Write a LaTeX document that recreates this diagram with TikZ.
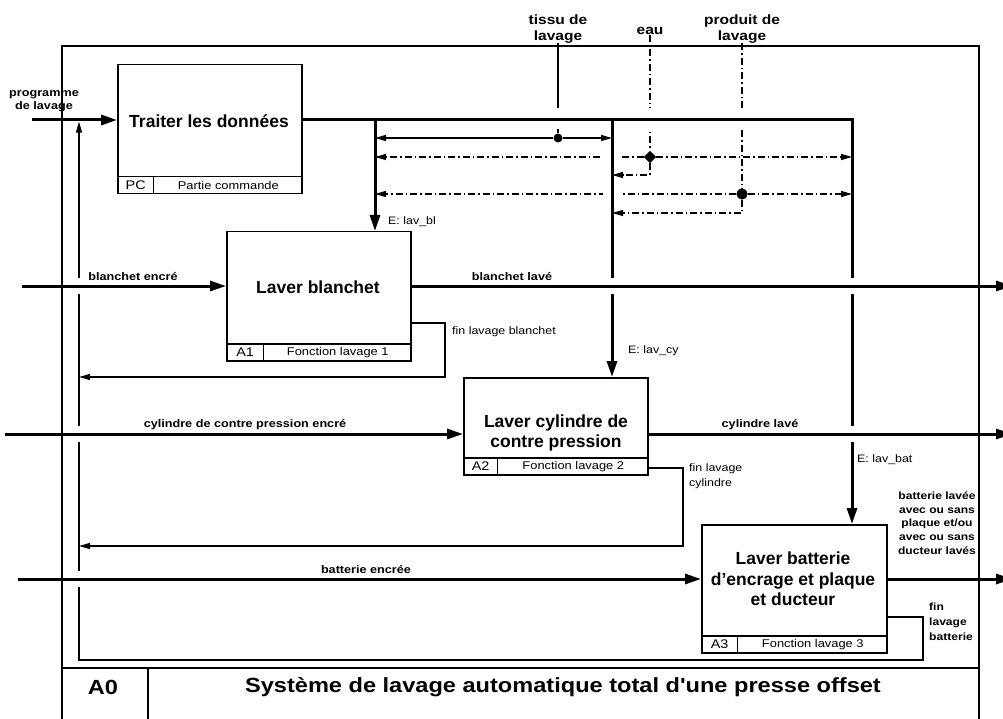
\documentclass[tikz,border=0pt]{standalone}
\usepackage{fontspec}
\setmainfont{Liberation Sans}
\newfontfamily\widefont[FakeStretch=1.15]{Liberation Sans}
\usetikzlibrary{arrows.meta,shapes.geometric,calc}

\begin{document}
\begin{tikzpicture}[x=1pt,y=-1pt,
  frameline/.style={line width=1.3pt},
  fbox/.style={draw, line width=1.5pt, rectangle, anchor=north west, inner sep=0pt},
  cell/.style={draw, line width=1.3pt, rectangle, anchor=south west, inner sep=0pt,
               minimum height=17pt, font=\widefont\fontsize{12.5}{14}\selectfont},
  celltxt/.style={inner sep=0pt, font=\widefont\fontsize{11.2}{13}\selectfont},
  boxttl/.style={font=\bfseries\fontsize{17.5}{20.5}\selectfont, align=center, inner sep=0pt},
  heavy/.style={line width=3pt},
  light/.style={line width=1.2pt},
  dashdot/.style={line width=1.3pt, dash pattern=on 7pt off 3pt on 1.5pt off 3pt},
  tipB/.style={-{Triangle[length=16pt,width=10pt]}},
  tipS/.style={-{Triangle[length=11pt,width=6pt]}},
  lblb/.style={font=\widefont\bfseries\fontsize{11}{13}\selectfont, inner sep=0pt, align=center},
  lblr/.style={font=\widefont\fontsize{10.8}{15}\selectfont, inner sep=0pt},
  lbls/.style={font=\widefont\bfseries\fontsize{10.5}{13.7}\selectfont, inner sep=0pt, align=center},
  lblf/.style={font=\widefont\bfseries\fontsize{10.5}{15}\selectfont, inner sep=0pt, align=left},
  toplbl/.style={font=\widefont\bfseries\fontsize{13.5}{15.5}\selectfont, align=center, inner sep=0pt},
  mainttl/.style={font=\widefont\bfseries\fontsize{20.5}{23}\selectfont, inner sep=0pt},
  crossing/.style={fill=white, draw=none},
]
\useasboundingbox (0,0) rectangle (1003,719);

% ---------- outer frame and title block ----------
\draw[frameline] (62,725) -- (62,46) -- (979,46) -- (979,725);
\draw[frameline] (62,668) -- (979,668);
\draw[frameline] (148,668) -- (148,725);
\node[mainttl] (A0) at (103,687) {A0};
\node[mainttl] (A0t) at (563,687) {Système de lavage automatique total d'une presse offset};

% ---------- activity boxes ----------
\node[fbox, minimum width=184pt, minimum height=129pt] (T) at (117,64) {};
\node[cell, minimum width=184pt] (Tr) at (T.south west) {};
\node[cell, minimum width=36pt] (Tc) at (T.south west) {PC};
\node[celltxt] (Td) at ($(Tc.east)!0.5!(Tr.east)$) {Partie commande};
\node[boxttl] (Tt) at (209,121) {Traiter les données};

\node[fbox, minimum width=184pt, minimum height=129pt] (A1) at (226,231) {};
\node[cell, minimum width=184pt] (A1r) at (A1.south west) {};
\node[cell, minimum width=37pt] (A1c) at (A1.south west) {A1};
\node[celltxt] (A1d) at ($(A1c.east)!0.5!(A1r.east)$) {Fonction lavage 1};
\node[boxttl] (A1t) at (318,287) {Laver blanchet};

\node[fbox, minimum width=184pt, minimum height=97pt] (A2) at (463,377) {};
\node[cell, minimum width=184pt] (A2r) at (A2.south west) {};
\node[cell, minimum width=34pt] (A2c) at (A2.south west) {A2};
\node[celltxt] (A2d) at ($(A2c.east)!0.5!(A2r.east)$) {Fonction lavage 2};
\node[boxttl] (A2t) at (556,433) {Laver cylindre de\\contre pression};

\node[fbox, minimum width=185pt, minimum height=128pt] (A3) at (701,524) {};
\node[cell, minimum width=185pt] (A3r) at (A3.south west) {};
\node[cell, minimum width=36pt] (A3c) at (A3.south west) {A3};
\node[celltxt] (A3d) at ($(A3c.east)!0.5!(A3r.east)$) {Fonction lavage 3};
\node[boxttl] (A3t) at (793,579) {Laver batterie\\d'encrage et plaque\\et ducteur};

% ---------- reference points ----------
\coordinate (pin) at (32,120);
\coordinate (b1) at (375,120);
\coordinate (b2) at (612,120);
\coordinate (b3) at (852,120);
\coordinate (inA1) at (22,286);
\coordinate (inA2) at (5,434);
\coordinate (inA3) at (18,579);
\coordinate (outA1) at (1012,286);
\coordinate (outA2) at (1012,434);
\coordinate (outA3) at (1012,579);
\coordinate (fbL) at (79,121.6);
\coordinate (fb1) at (445,323);
\coordinate (fb1b) at (445,377);
\coordinate (fb2) at (683,468);
\coordinate (fb2b) at (683,546);
\coordinate (fb3) at (923,617);
\coordinate (fb3b) at (923,660);
\coordinate (eB) at (650,175);
\coordinate (pB) at (742,213);

% ---------- control inputs: tissu, eau, produit ----------
\node[toplbl] (tissu) at (558,29) {tissu de\\lavage};
\node[toplbl] (eau) at (650,31) {eau};
\node[toplbl] (prod) at (742,29) {produit de\\lavage};
\node[circle, fill, inner sep=0pt, minimum size=9pt] (dT) at (558,138) {};
\node[diamond, fill, inner sep=0pt, minimum size=12pt] (dE) at (650,157) {};
\node[circle, fill, inner sep=0pt, minimum size=11pt] (dP) at (742,194) {};

\draw[light] (tissu.south) -- (dT);
\draw[dashdot] (eau.south) -- (dE);
\draw[dashdot] (prod.south) -- (dP);
\foreach \x in {558,650,742} \fill[crossing] (\x-4,108) rectangle (\x+4,129);

\draw[light, tipS] (dT) -- (dT -| b1);
\draw[light, tipS] (dT) -- (dT -| b2);
\draw[dashdot, tipS] (dE) -- (dE -| b1);
\draw[dashdot, tipS] (dE) -- (dE -| b3);
\draw[dashdot, tipS] (dE) -- (eB) -- (eB -| b2);
\draw[dashdot, tipS] (dP) -- (dP -| b1);
\draw[dashdot, tipS] (dP) -- (dP -| b3);
\draw[dashdot, tipS] (dP) -- (pB) -- (pB -| b2);
\fill[crossing] (603,151) rectangle (622,163);
\fill[crossing] (603,188) rectangle (622,200);
\node[diamond, fill, inner sep=0pt, minimum size=12pt] at (dE) {};
\node[circle, fill, inner sep=0pt, minimum size=11pt] at (dP) {};

% ---------- control bus from the command part ----------
\draw[heavy, tipB] (T.east |- pin) -- (b3) -- (b3 |- A3.north);
\draw[heavy, tipB] (b1) -- (b1 |- A1.north);
\draw[heavy, tipB] (b2) -- (b2 |- A2.north);

% ---------- end-of-wash feedback ----------
\draw[light, tipS] (fb1 -| A1.east) -- (fb1) -- (fb1b) -- (fb1b -| fbL);
\draw[light, tipS] (fb2 -| A2.east) -- (fb2) -- (fb2b) -- (fb2b -| fbL);
\draw[light, tipS] (fb3 -| A3.east) -- (fb3) -- (fb3b) -- (fb3b -| fbL) -- (fbL);

% gaps where buses pass under the product flows
\foreach \x/\y in {612/286, 852/286, 852/434, 79/286, 79/434, 79/579}
  \fill[crossing] (\x-4,\y-8) rectangle (\x+4,\y+8);

% ---------- product flows ----------
\draw[heavy, tipB] (pin) -- (pin -| T.west);
\draw[heavy, tipB] (inA1) -- (inA1 -| A1.west);
\draw[heavy, tipB] (inA2) -- (inA2 -| A2.west);
\draw[heavy, tipB] (inA3) -- (inA3 -| A3.west);
\draw[heavy, tipB] (outA1 -| A1.east) -- (outA1);
\draw[heavy, tipB] (outA2 -| A2.east) -- (outA2);
\draw[heavy, tipB] (outA3 -| A3.east) -- (outA3);

% ---------- labels ----------
\node[lblb] (lprog) at (44,101) {programme\\de lavage};
\node[lblr, anchor=west] (lEbl) at (388,222) {E: lav\_bl};
\node[lblb] (lbe) at (133,277) {blanchet encré};
\node[lblb] (lbl) at (512,277) {blanchet lavé};
\node[lblr, anchor=west] (lfb1) at (452,332) {fin lavage blanchet};
\node[lblr, anchor=west] (lEcy) at (628,351) {E: lav\_cy};
\node[lblb] (lce) at (245,425) {cylindre de contre pression encré};
\node[lblb] (lcl) at (760,425) {cylindre lavé};
\node[lblr, anchor=north west, align=left] (lfb2) at (689,463) {fin lavage\\cylindre};
\node[lblr, anchor=west] (lEbat) at (857,460) {E: lav\_bat};
\node[lbls] (lbl3) at (937,523) {batterie lavée\\avec ou sans\\plaque et/ou\\avec ou sans\\ducteur lavés};
\node[lblb] (lbe3) at (366,570) {batterie encrée};
\node[lblf, anchor=north west] (lfb3) at (929,603) {fin\\lavage\\batterie};
\end{tikzpicture}
\end{document}
